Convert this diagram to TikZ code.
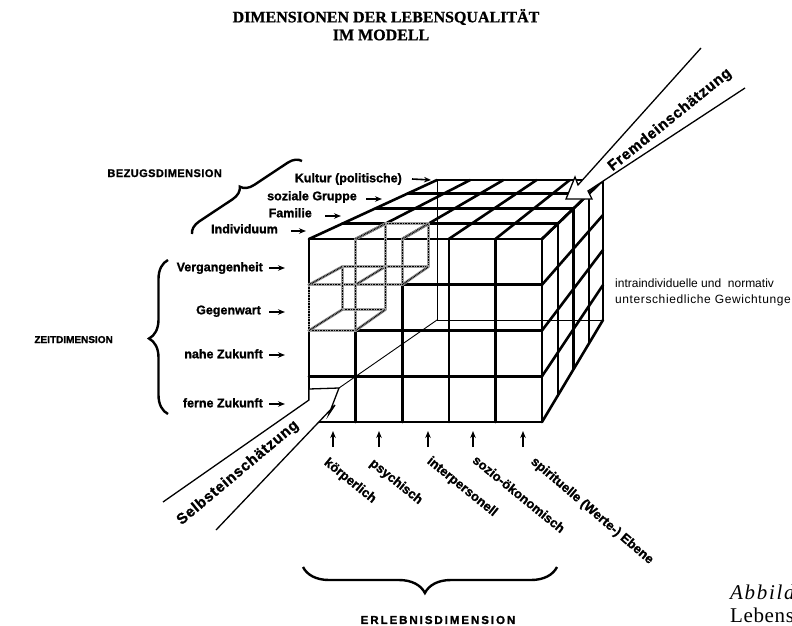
\documentclass[tikz,border=0pt]{standalone}
\usepackage{fontspec}
\setmainfont{Liberation Sans}[BoldFeatures={FakeBold=1.3}]
\newfontfamily\titlefont{Liberation Serif}[BoldFeatures={FakeBold=0.8}]
\usetikzlibrary{arrows.meta,calc,decorations.pathreplacing}
\begin{document}
\begin{tikzpicture}[x=1pt,y=-1pt,
  grid/.style={line width=2.6pt, line cap=round, line join=round},
  hid/.style={line width=0.9pt},
  hatchA/.style={draw=gray!75, line width=2.8pt, line cap=round},
  hatchB/.style={draw=black, line width=1.4pt, dash pattern=on 0.8pt off 0.8pt},
  lbl/.style={font=\bfseries\fontsize{12.5}{14}\selectfont, inner sep=0pt, anchor=east, text height=9pt, text depth=2.5pt},
  lblarrow/.style={-{Stealth[length=7pt,width=5.5pt]}, line width=1.6pt},
  botlbl/.style={font=\bfseries\fontsize{13}{15}\selectfont, inner sep=0pt, rotate=-39},
  heading/.style={font=\bfseries\fontsize{11}{12}\selectfont\addfontfeatures{LetterSpace=4}, inner sep=0pt, text height=8pt, text depth=0pt},
  bigarrow/.style={line width=1.3pt, line join=miter},
  bigtext/.style={font=\bfseries\fontsize{15}{16}\selectfont\addfontfeatures{LetterSpace=5}, inner sep=0pt},
  bracestyle/.style={decorate, line width=2.4pt},
  plain/.style={font=\fontsize{12}{14}\selectfont, inner sep=0pt, anchor=west},
]
\useasboundingbox (0,0) rectangle (792,626);
\clip (0,0) rectangle (792,626);

% cube corner coordinates
\foreach \i in {0,...,5}{
  \foreach \j in {0,...,4}{
    \coordinate (f\i\j) at ({309+46.6*\i},{239+45.75*\j});
    \coordinate (b\i\j) at ({437+33.2*\i},{180+35*\j});
  }
}
\foreach \i in {0,1,2}{
  \foreach \j in {0,1,2}{
    \coordinate (h\i\j) at ($(f\i\j)!0.26!(b\i\j)$);
  }
}

% hidden lines
\draw[hid] (b00) -- (b04) -- (b54);

% front face
\foreach \i in {0,...,5}{ \draw[grid] (f\i0) -- (f\i4); }
\foreach \j in {0,...,4}{ \draw[grid] (f0\j) -- (f5\j); }
% top face diagonals and right face diagonals
\foreach \i in {0,...,5}{ \draw[grid] (f\i0) -- (b\i0); }
\foreach \j in {0,...,4}{ \draw[grid] (f5\j) -- (b5\j); }
% depth layers
\foreach \t in {0.26,0.52,0.77,1}{
  \draw[grid] ($(f00)!\t!(b00)$) -- ($(f50)!\t!(b50)$);
  \draw[grid] ($(f50)!\t!(b50)$) -- ($(f54)!\t!(b54)$);
}

% hatched cells
\foreach \p/\q in {f20/f21,f21/f11,f11/f10,h10/h20,h20/h21,h21/h11,h11/h10,f10/h10,f20/h20,f21/h21,f11/h11,
                   f01/f11,f11/f12,f12/f02,f02/f01,h01/h11,h11/h12,h12/h02,h02/h01,f01/h01,f12/h12,f02/h02}{
  \draw[hatchA] (\p) -- (\q);
  \draw[hatchB] (\p) -- (\q);
}

% Fremdeinschaetzung arrow
\coordinate (fu0) at (701,48);
\coordinate (fu) at (578,185);
\coordinate (fb1) at (575,177);
\coordinate (ft) at (566,199);
\coordinate (fb2) at (592,199);
\coordinate (fl) at (588,191);
\coordinate (fl0) at (745,88);
\fill[white] (fu0) -- (fu) -- (fb1) -- (ft) -- (fb2) -- (fl) -- (fl0) -- cycle;
\draw[bigarrow] (fu0) -- (fu) -- (fb1) -- (ft) -- (fb2) -- (fl) -- (fl0);
\node[bigtext, rotate=39] (fremd) at (670,120) {Fremdeinschätzung};

% Selbsteinschaetzung arrow
\coordinate (su0) at (163,502);
\coordinate (su) at (309,400);
\coordinate (sb1) at (309,389);
\coordinate (st) at (339,388);
\coordinate (sb2) at (329,414);
\coordinate (sl) at (335,405);
\coordinate (sl0) at (216,530);
\draw[hid] (st) -- (b04);
\fill[white] (su0) -- (su) -- (sb1) -- (st) -- (sb2) -- (sl) -- (sl0) -- cycle;
\draw[bigarrow] (su0) -- (su) -- (sb1) -- (st) -- (sb2) -- (sl) -- (sl0);
\node[bigtext, rotate=40] (selbst) at (238,473) {Selbsteinschätzung};

% title
\node[font=\titlefont\bfseries\fontsize{16}{18}\selectfont, inner sep=0pt] (title1) at (386,17) {DIMENSIONEN DER LEBENSQUALITÄT};
\node[font=\titlefont\bfseries\fontsize{16}{18}\selectfont, inner sep=0pt] (title2) at (381,35) {IM MODELL};

% Bezugsdimension
\node[heading, anchor=east] (bezug) at (222,173) {BEZUGSDIMENSION};
\coordinate (bz1) at (192,234);
\coordinate (bz2) at (302,161);
\draw[bracestyle, decoration={brace, amplitude=13pt, aspect=0.5}] (bz1) -- (bz2);

\node[lbl] (kultur) at (402,179) {Kultur (politische)};
\node[lbl] (sozial) at (357,197) {soziale Gruppe};
\node[lbl] (familie) at (312,214) {Familie};
\node[lbl] (indiv) at (278,230) {Individuum};
\coordinate (ak) at (431,180);
\coordinate (as) at (382,199);
\coordinate (af) at (341,216);
\coordinate (ai) at (306,231);
\draw[lblarrow] ([xshift=10pt]kultur.east) -- (ak);
\draw[lblarrow] ([xshift=9pt,yshift=-2pt]sozial.east) -- (as);
\draw[lblarrow] ([xshift=13pt,yshift=-2pt]familie.east) -- (af);
\draw[lblarrow] ([xshift=13pt,yshift=-1pt]indiv.east) -- (ai);

% Zeitdimension
\node[font=\bfseries\fontsize{10}{12}\selectfont, inner sep=0pt, text height=8pt, text depth=0pt, anchor=east] (zeit) at (113,339) {ZEITDIMENSION};
\coordinate (zb1) at (168,414);
\coordinate (zb2) at (168,260);
\draw[bracestyle, decoration={brace, amplitude=19pt, aspect=0.49}] (zb1) -- (zb2);

\node[lbl] (verg) at (263,268) {Vergangenheit};
\node[lbl] (gegen) at (261,311) {Gegenwart};
\node[lbl] (nahe) at (263,355) {nahe Zukunft};
\node[lbl] (ferne) at (263,404) {ferne Zukunft};
\foreach \n/\y in {verg/268,gegen/312,nahe/355,ferne/404}{
  \coordinate (t\n) at (285,\y);
  \draw[lblarrow] (269,\y) -- (t\n);
}

% Erlebnisdimension
\foreach \n/\x in {k/333,p/379,i/428,s/473,w/523}{
  \coordinate (e\n) at (\x,431);
  \draw[lblarrow] (\x,447) -- (e\n);
}
\node[botlbl] (koerp) at (350,481) {körperlich};
\node[botlbl] (psych) at (396,482) {psychisch};
\node[botlbl] (inter) at (462,487) {interpersonell};
\node[botlbl] (sozio) at (519,494) {sozio-ökonomisch};
\node[botlbl, rotate=-1.5] (spir) at (592,511) {spirituelle (Werte-) Ebene};

\coordinate (eb1) at (557,567);
\coordinate (eb2) at (303,567);
\draw[bracestyle, decoration={brace, amplitude=26pt, aspect=0.52}] (eb1) -- (eb2);
\node[font=\bfseries\fontsize{11.5}{12}\selectfont\addfontfeatures{LetterSpace=17}, inner sep=0pt] (erleb) at (438,620) {ERLEBNISDIMENSION};

% right text
\node[plain] (intra1) at (615,283) {intraindividuelle und\ \ normativ};
\node[plain, font=\fontsize{12}{14}\selectfont\addfontfeatures{LetterSpace=5}] (intra2) at (615,300) {unterschiedliche Gewichtungen};

% caption fragments (cut off at the right edge)
\node[font=\titlefont\itshape\fontsize{21}{23}\selectfont\addfontfeatures{LetterSpace=8}, inner sep=0pt, anchor=west] (abb) at (730,594) {Abbildung};
\node[font=\titlefont\fontsize{21}{23}\selectfont\addfontfeatures{LetterSpace=3}, inner sep=0pt, anchor=west] (leb) at (730,617) {Lebensqualität};
\end{tikzpicture}
\end{document}
